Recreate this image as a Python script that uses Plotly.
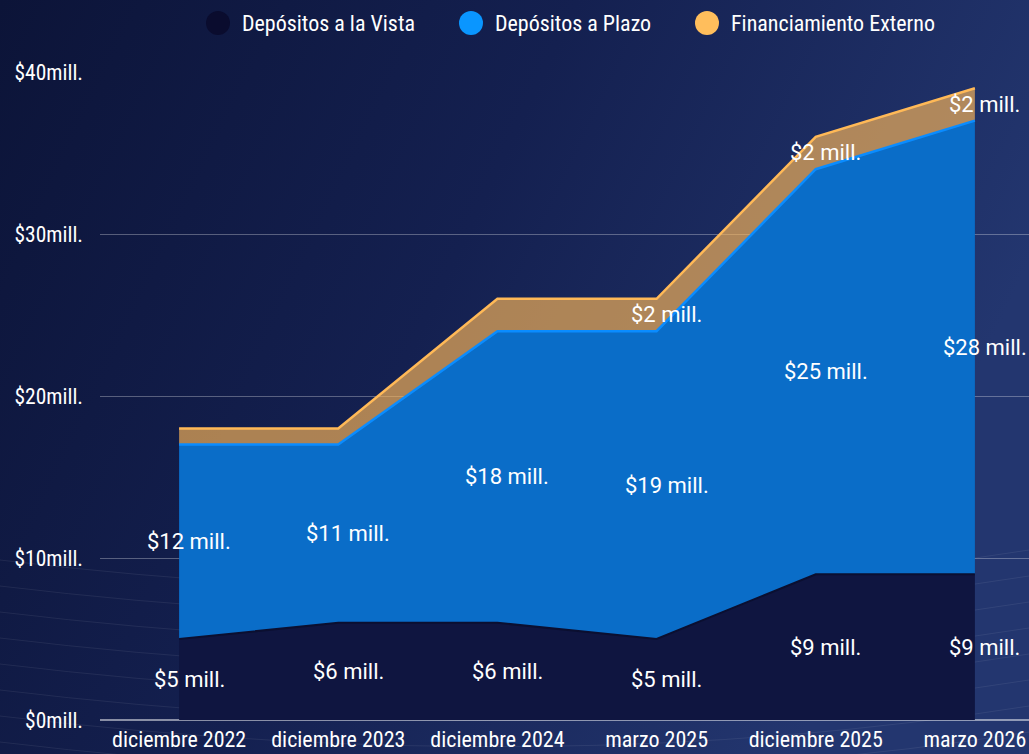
import base64
import plotly.graph_objects as go

categories = ["diciembre 2022", "diciembre 2023", "diciembre 2024",
              "marzo 2025", "diciembre 2025", "marzo 2026"]
vista = [5, 6, 6, 5, 9, 9]
plazo = [12, 11, 18, 19, 25, 28]
externo = [1, 1, 2, 2, 2, 2]
externo_label_shown = [False, False, False, True, True, True]
series_names = ["Depósitos a la Vista", "Depósitos a Plazo", "Financiamiento Externo"]
y_ticks = [0, 10, 20, 30, 40]
y_tick_text = ["$%dmill." % v for v in y_ticks]

W, H = 1029, 754
NARROW = "Liberation Sans Narrow, Roboto Condensed, DejaVu Sans Condensed, sans-serif"
LABEL_FONT = "Roboto, Inter, sans-serif"

# background (gradient + faint decorative arcs)
arcs = ""
for k in range(9):
    a = 560 + k * 26
    arcs += ('<path d="M0 %d Q550 %d 1029 %d" stroke="white" stroke-opacity="0.07" '
             'stroke-width="1" fill="none"/>' % (a, a + 66, a - 10))
svg = ('<svg xmlns="http://www.w3.org/2000/svg" width="%d" height="%d">'
       '<defs><linearGradient id="g" x1="0" y1="0" x2="1" y2="0.35">'
       '<stop offset="0" stop-color="#0c1438"/>'
       '<stop offset="0.5" stop-color="#142050"/>'
       '<stop offset="1" stop-color="#23366f"/>'
       '</linearGradient></defs>'
       '<rect width="100%%" height="100%%" fill="url(#g)"/>%s</svg>') % (W, H, arcs)
bg_uri = "data:image/svg+xml;base64," + base64.b64encode(svg.encode()).decode()

fig = go.Figure()

cum1 = vista
cum2 = [a + b for a, b in zip(vista, plazo)]
cum3 = [a + b for a, b in zip(cum2, externo)]

fig.add_trace(go.Scatter(x=categories, y=vista, mode="lines", stackgroup="s",
                         name=series_names[0],
                         line=dict(color="#0b0f30", width=2),
                         fillcolor="#0f1540", showlegend=False, hoverinfo="skip"))
fig.add_trace(go.Scatter(x=categories, y=plazo, mode="lines", stackgroup="s",
                         name=series_names[1],
                         line=dict(color="#0a8cff", width=2.5),
                         fillcolor="#0a6dc8", showlegend=False, hoverinfo="skip"))
fig.add_trace(go.Scatter(x=categories, y=externo, mode="lines", stackgroup="s",
                         name=series_names[2],
                         line=dict(color="#ffb957", width=2.5),
                         fillcolor="rgba(255,185,87,0.65)", showlegend=False,
                         hoverinfo="skip"))

annos = []
lab_font = dict(family=LABEL_FONT, size=22, color="white")


def add_labels(xs, ys, vals):
    for x, y, v in zip(xs, ys, vals):
        annos.append(dict(x=x, y=y, xref="x", yref="y", text="$%d mill." % v,
                          showarrow=False, xshift=10, font=lab_font))


# data labels (centered within each band)
add_labels(categories, [v / 2 for v in vista], vista)
add_labels(categories, [(a + b) / 2 for a, b in zip(cum1, cum2)], plazo)
add_labels([c for c, s in zip(categories, externo_label_shown) if s],
           [(a + b) / 2 for a, b, s in zip(cum2, cum3, externo_label_shown) if s],
           [v for v, s in zip(externo, externo_label_shown) if s])

# manual legend (large circular swatches)
legend_colors = ["#0a0c2e", "#0a96ff", "#ffbe5c"]
legend_px = [218, 471, 707]
shapes = []
ly = 1 - 23 / H
r = 12
for name, col, px in zip(series_names, legend_colors, legend_px):
    shapes.append(dict(type="circle", xref="paper", yref="paper",
                       x0=(px - r) / W, x1=(px + r) / W,
                       y0=ly - r / H, y1=ly + r / H,
                       fillcolor=col, line=dict(width=0)))
    annos.append(dict(text=name, xref="paper", yref="paper", x=(px + 22) / W, y=ly,
                      xanchor="left", yanchor="middle", showarrow=False,
                      font=dict(family=NARROW, size=22, color="white")))

fig.update_layout(
    width=W, height=H,
    margin=dict(l=0, r=0, t=0, b=0, autoexpand=False),
    paper_bgcolor="#142050",
    plot_bgcolor="rgba(0,0,0,0)",
    images=[dict(source=bg_uri, xref="paper", yref="paper", x=0, y=1,
                 sizex=1, sizey=1, sizing="stretch", layer="below",
                 xanchor="left", yanchor="top")],
    shapes=shapes,
    annotations=annos,
    showlegend=False,
    xaxis=dict(domain=[100 / W, 1], type="category", range=[-0.497, 5.34],
               showgrid=False, zeroline=False, showline=False, automargin=False,
               tickfont=dict(family=NARROW, size=22, color="white"),
               ticklabelstandoff=4),
    yaxis=dict(domain=[34 / H, 1 - 72 / H], range=[0, 40], tickvals=y_ticks,
               ticktext=y_tick_text, showgrid=True, automargin=False,
               gridcolor="rgba(255,255,255,0.3)", gridwidth=1,
               zeroline=True, zerolinecolor="rgba(255,255,255,0.5)", zerolinewidth=1.5,
               tickfont=dict(family=NARROW, size=21.5, color="white"),
               ticklabelstandoff=16),
)

fig.write_html("out.html", config={"displayModeBar": False},
               post_script="document.body.style.margin='0';document.body.style.background='#0c1438';")
